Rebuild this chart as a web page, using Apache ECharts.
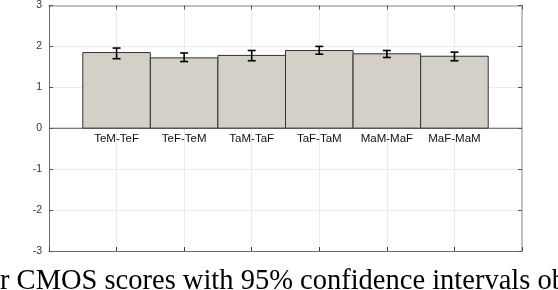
<!DOCTYPE html>
<html>
<head>
<meta charset="utf-8">
<script src="https://cdn.jsdelivr.net/npm/echarts@6/dist/echarts.min.js"></script>
<style>html,body{margin:0;padding:0;background:#fff;}#c{width:558px;height:290px;}</style>
</head>
<body>
<div id="c"></div>
<script>
const categories = ['TeM-TeF', 'TeF-TeM', 'TaM-TaF', 'TaF-TaM', 'MaM-MaF', 'MaF-MaM'];
const positions = [1, 2, 3, 4, 5, 6];
const means = [1.85, 1.72, 1.78, 1.90, 1.82, 1.76];
const ciLow = [1.70, 1.63, 1.65, 1.81, 1.73, 1.65];
const ciHigh = [1.96, 1.84, 1.90, 2.00, 1.90, 1.86];
const yTicks = [-3, -2, -1, 0, 1, 2, 3];
const caption = 'r CMOS scores with 95% confidence intervals ob';

const chart = echarts.init(document.getElementById('c'), null, {renderer: 'canvas'});
const barData = positions.map((p, i) => [p, means[i]]);
const errData = positions.map((p, i) => [p, ciLow[i], ciHigh[i]]);
const labelData = positions.map((p, i) => [p, 0, categories[i]]);

const option = {
  animation: false,
  grid: {left: 49, right: 36, top: 4, bottom: 39, containLabel: false},
  xAxis: [
    {type: 'value', min: 0, max: 7, interval: 1, position: 'bottom',
     axisLine: {onZero: false, lineStyle: {color: '#6e6e6e', width: 1}},
     axisTick: {inside: true, length: 4, lineStyle: {color: '#444'}},
     axisLabel: {show: false},
     splitLine: {show: true, lineStyle: {color: '#ebebeb', width: 1}}},
    {type: 'value', min: 0, max: 7, interval: 1, position: 'top',
     axisLine: {onZero: false, lineStyle: {color: '#b0b0b0', width: 1.5}},
     axisTick: {inside: true, length: 4, lineStyle: {color: '#555'}},
     axisLabel: {show: false}, splitLine: {show: false}}
  ],
  yAxis: [
    {type: 'value', min: -3, max: 3, interval: 1, position: 'left',
     axisLine: {show: true, onZero: false, lineStyle: {color: '#6e6e6e', width: 1}},
     axisTick: {show: true, inside: true, length: 4, lineStyle: {color: '#555'}},
     axisLabel: {color: '#333', fontSize: 10.5, fontFamily: 'Liberation Sans, Arial', margin: 7,
                 formatter: v => yTicks.includes(v) ? String(v) : ''},
     splitLine: {show: true, lineStyle: {color: '#ebebeb', width: 1}}},
    {type: 'value', min: -3, max: 3, interval: 1, position: 'right',
     axisLine: {show: true, onZero: false, lineStyle: {color: '#b0b0b0', width: 1.5}},
     axisTick: {show: true, inside: true, length: 4, lineStyle: {color: '#555'}},
     axisLabel: {show: false}, splitLine: {show: false}}
  ],
  series: [
    {type: 'custom', xAxisIndex: 0, yAxisIndex: 0, data: barData, z: 3,
     renderItem: (params, api) => {
       const x = api.value(0), v = api.value(1);
       const p1 = api.coord([x - 0.5, v]);
       const p2 = api.coord([x + 0.5, 0]);
       return {type: 'rect', shape: {x: p1[0], y: p1[1], width: p2[0] - p1[0], height: p2[1] - p1[1]},
               style: {fill: '#d4d0c8', stroke: '#333', lineWidth: 1}};
     }},
    {type: 'custom', xAxisIndex: 0, yAxisIndex: 0, data: [[0, 0], [7, 0]], z: 4,
     renderItem: (params, api) => {
       if (params.dataIndex !== 0) return null;
       const a = api.coord([0, 0]), b = api.coord([7, 0]);
       return {type: 'line', shape: {x1: a[0], y1: a[1], x2: b[0], y2: b[1]},
               style: {stroke: '#555', lineWidth: 1}};
     }},
    {type: 'custom', xAxisIndex: 0, yAxisIndex: 0, data: errData, z: 5,
     renderItem: (params, api) => {
       const x = api.value(0);
       const lo = api.coord([x, api.value(1)]);
       const hi = api.coord([x, api.value(2)]);
       const hw = 4;
       const st = {stroke: '#000', lineWidth: 1.6};
       return {type: 'group', children: [
         {type: 'line', shape: {x1: lo[0], y1: lo[1], x2: hi[0], y2: hi[1]}, style: st},
         {type: 'line', shape: {x1: lo[0] - hw, y1: lo[1], x2: lo[0] + hw, y2: lo[1]}, style: st},
         {type: 'line', shape: {x1: hi[0] - hw, y1: hi[1], x2: hi[0] + hw, y2: hi[1]}, style: st}
       ]};
     }},
    {type: 'custom', xAxisIndex: 0, yAxisIndex: 0, data: labelData, z: 6,
     renderItem: (params, api) => {
       const p = api.coord([api.value(0), api.value(1)]);
       return {type: 'text', x: p[0], y: p[1] + 5,
               style: {text: categories[params.dataIndex], fill: '#111', fontSize: 11.5,
                       fontFamily: 'Liberation Sans, Arial', align: 'center', verticalAlign: 'top'}};
     }}
  ],
  graphic: [
    {type: 'text', left: 0, top: 267, z: 10,
     style: {text: caption, fill: '#000', fontSize: 28.5, fontFamily: 'Liberation Serif, Times New Roman, serif'}}
  ]
};
chart.setOption(option);
</script>
</body>
</html>
